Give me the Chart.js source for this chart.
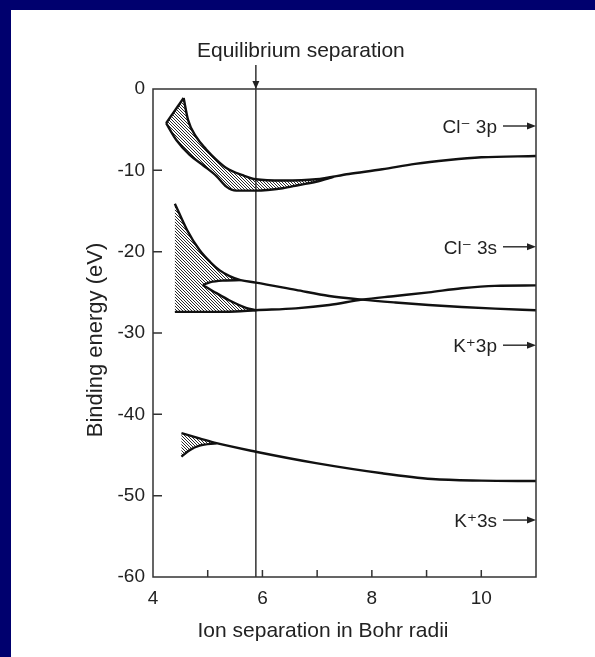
<!DOCTYPE html>
<html>
<head>
<meta charset="utf-8">
<script src="https://cdn.jsdelivr.net/npm/chart.js@4.4.1/dist/chart.umd.min.js"></script>
<style>
  html, body { margin: 0; padding: 0; background: #00006e; width: 595px; height: 657px; overflow: hidden; }
  #panel { position: absolute; left: 11px; top: 10px; width: 584px; height: 647px; background: #fff; }
  canvas { display: block; }
</style>
</head>
<body>
<div id="panel"><canvas id="bands" width="584" height="647"></canvas></div>
<script>
// x = ion separation (Bohr radii), y = binding energy (eV)
const cl3pTip = [[4.24, -4.2], [4.56, -1.1]];
const cl3pUpper = [[4.56, -1.1], [4.64, -3.8], [4.79, -5.9], [4.97, -7.4], [5.16, -8.7], [5.34, -9.7],
  [5.64, -10.6], [5.88, -11.1], [6.37, -11.25], [6.98, -11.1], [7.58, -10.45], [8.19, -9.87],
  [8.79, -9.2], [9.4, -8.73], [10.0, -8.4], [11.0, -8.24]];
const cl3pLower = [[4.24, -4.2], [4.43, -6.3], [4.67, -8.1], [4.92, -9.4], [5.16, -10.7], [5.34, -12.0],
  [5.52, -12.5], [5.88, -12.5], [6.37, -12.2], [6.67, -11.8], [6.98, -11.4], [7.3, -10.8]];

const cl3sUpper = [[4.4, -14.1], [4.62, -17.3], [4.85, -19.8], [5.05, -21.3], [5.22, -22.3], [5.4, -23.0],
  [5.6, -23.5], [5.88, -23.8], [6.61, -24.7], [7.22, -25.45], [7.82, -25.9], [8.43, -26.25],
  [9.04, -26.55], [9.64, -26.8], [10.25, -27.0], [11.0, -27.2]];
const cl3sLower = [[4.4, -27.4], [5.0, -27.4], [5.5, -27.35], [5.88, -27.2], [6.61, -26.97], [7.22, -26.56],
  [7.82, -25.9], [8.43, -25.45], [9.04, -25.0], [9.64, -24.5], [10.25, -24.2], [11.0, -24.15]];
const lensTop = [[4.91, -24.1], [5.05, -23.75], [5.3, -23.55], [5.6, -23.5]];
const lensBottom = [[4.91, -24.1], [5.16, -25.1], [5.4, -26.0], [5.7, -26.9], [5.88, -27.2]];

const k3sUpper = [[4.52, -42.3], [4.85, -42.95], [5.16, -43.55], [5.88, -44.6], [6.98, -46.0],
  [8.19, -47.25], [9.1, -47.95], [10.0, -48.15], [11.0, -48.2]];
const k3sLower = [[4.52, -45.2], [4.67, -44.4], [4.85, -43.85], [5.16, -43.55]];

const eqSeparation = 5.88;
const levelNames = ['Cl\u207B 3p', 'Cl\u207B 3s', 'K\u207A3p', 'K\u207A3s'];
const levelEnergies = [-4.55, -19.4, -31.5, -53.0];

const xy = pts => pts.map(([x, y]) => ({x, y}));
const rev = pts => pts.slice().reverse();

// closed outlines of the hatched areas, built from the edge arrays
const cl3pShape = [cl3pTip[0], ...cl3pUpper.filter(p => p[0] <= 6.98), ...rev(cl3pLower)];
const cl3sShape = [...cl3sLower.filter(p => p[0] < 5.88), ...rev(lensBottom), ...lensTop.slice(1),
  ...rev(cl3sUpper.filter(p => p[0] < 5.6))];
const k3sShape = [...k3sLower, ...rev(k3sUpper.filter(p => p[0] < 5.16))];

const canvas = document.getElementById('bands');
const ctx = canvas.getContext('2d');

function makeHatch() {
  const c = document.createElement('canvas');
  c.width = 3; c.height = 3;
  const g = c.getContext('2d');
  g.fillStyle = '#fff';
  g.fillRect(0, 0, 3, 3);
  g.strokeStyle = '#2a2a2a';
  g.lineWidth = 1;
  g.beginPath();
  g.moveTo(-1, -1); g.lineTo(4, 4);
  g.moveTo(-1, 2); g.lineTo(1, 4);
  g.moveTo(2, -1); g.lineTo(4, 1);
  g.stroke();
  return ctx.createPattern(c, 'repeat');
}
const hatch = makeHatch();

const curve = (pts, extra) => Object.assign({
  data: xy(pts), borderColor: '#111', borderWidth: 2.4, pointRadius: 0, fill: false,
  cubicInterpolationMode: 'monotone'
}, extra || {});
const area = pts => ({
  data: xy(pts), borderColor: 'rgba(0,0,0,0)', borderWidth: 0, pointRadius: 0,
  fill: 'shape', backgroundColor: hatch, tension: 0
});

function arrowHead(c, tx, ty, dx, dy, len, half) {
  c.beginPath();
  c.moveTo(tx, ty);
  c.lineTo(tx - dx * len - dy * half, ty - dy * len + dx * half);
  c.lineTo(tx - dx * len + dy * half, ty - dy * len - dx * half);
  c.closePath();
  c.fill();
}

const notes = {
  id: 'notes',
  afterDatasetsDraw(chart) {
    const {ctx: c, chartArea: a, scales: {x, y}} = chart;
    c.save();
    c.strokeStyle = '#333';
    c.fillStyle = '#222';
    c.lineWidth = 1.5;
    c.strokeRect(a.left, a.top, a.right - a.left, a.bottom - a.top);

    // tick marks point into the plot
    c.beginPath();
    x.ticks.forEach(t => {
      if (t.value > x.min && t.value < x.max) {
        const px = x.getPixelForValue(t.value);
        c.moveTo(px, a.bottom); c.lineTo(px, a.bottom - 7);
      }
    });
    y.ticks.forEach(t => {
      if (t.value > y.min && t.value < y.max) {
        const py = y.getPixelForValue(t.value);
        c.moveTo(a.left, py); c.lineTo(a.left + 9, py);
      }
    });
    c.stroke();

    // equilibrium marker above the plot
    const ex = x.getPixelForValue(eqSeparation);
    c.beginPath();
    c.moveTo(ex, a.top - 24); c.lineTo(ex, a.top);
    c.stroke();
    arrowHead(c, ex, a.top, 0, 1, 8, 3.5);
    c.font = "21px 'Liberation Sans', Arial, sans-serif";
    c.textAlign = 'center';
    c.textBaseline = 'alphabetic';
    c.fillText('Equilibrium separation', ex + 45, a.top - 32);

    // free-ion levels on the right
    c.font = "19px 'Liberation Sans', 'DejaVu Sans', sans-serif";
    c.textAlign = 'right';
    levelNames.forEach((name, i) => {
      const py = y.getPixelForValue(levelEnergies[i]);
      c.beginPath();
      c.moveTo(a.right - 33, py); c.lineTo(a.right - 4, py);
      c.stroke();
      arrowHead(c, a.right, py, 1, 0, 9, 3.5);
      c.fillText(name, a.right - 39, py + 7);
    });

    // axis titles
    c.font = "21px 'Liberation Sans', Arial, sans-serif";
    c.textAlign = 'center';
    c.fillText('Ion separation in Bohr radii', a.left + 170, a.bottom + 60);
    c.save();
    c.translate(a.left - 51, (a.top + a.bottom) / 2 + 7);
    c.rotate(-Math.PI / 2);
    c.font = "22px 'Liberation Sans', Arial, sans-serif";
    c.fillText('Binding energy (eV)', 0, 0);
    c.restore();
    c.restore();
  }
};

Chart.defaults.font.family = "'Liberation Sans', Arial, sans-serif";
Chart.defaults.color = '#222';

new Chart(ctx, {
  type: 'line',
  data: {
    datasets: [
      curve(cl3pTip, {tension: 0, cubicInterpolationMode: 'default'}),
      curve(cl3pUpper),
      curve(cl3pLower),
      curve(cl3sUpper),
      curve(cl3sLower),
      curve(lensTop),
      curve(lensBottom),
      curve(k3sUpper),
      curve(k3sLower),
      curve([[eqSeparation, 0], [eqSeparation, -60]], {borderColor: '#333', borderWidth: 1.5, tension: 0, cubicInterpolationMode: 'default'}),
      area(cl3pShape),
      area(cl3sShape),
      area(k3sShape)
    ]
  },
  options: {
    responsive: false,
    devicePixelRatio: 1,
    animation: false,
    layout: {padding: {top: 79, right: 59, left: 0, bottom: 0}},
    plugins: {legend: {display: false}, tooltip: {enabled: false}},
    scales: {
      x: {
        type: 'linear', min: 4, max: 11,
        grid: {display: false, drawTicks: false},
        border: {display: false},
        ticks: {
          stepSize: 1, padding: 10, font: {size: 19}, maxRotation: 0,
          callback: v => (v % 2 === 0 && v < 11) ? String(v) : ''
        },
        afterFit: s => { s.height = 80; }
      },
      y: {
        min: -60, max: 0,
        grid: {display: false, drawTicks: false},
        border: {display: false},
        ticks: {stepSize: 10, padding: 8, font: {size: 19}},
        afterFit: s => { s.width = 142; }
      }
    }
  },
  plugins: [notes]
});
</script>
</body>
</html>
